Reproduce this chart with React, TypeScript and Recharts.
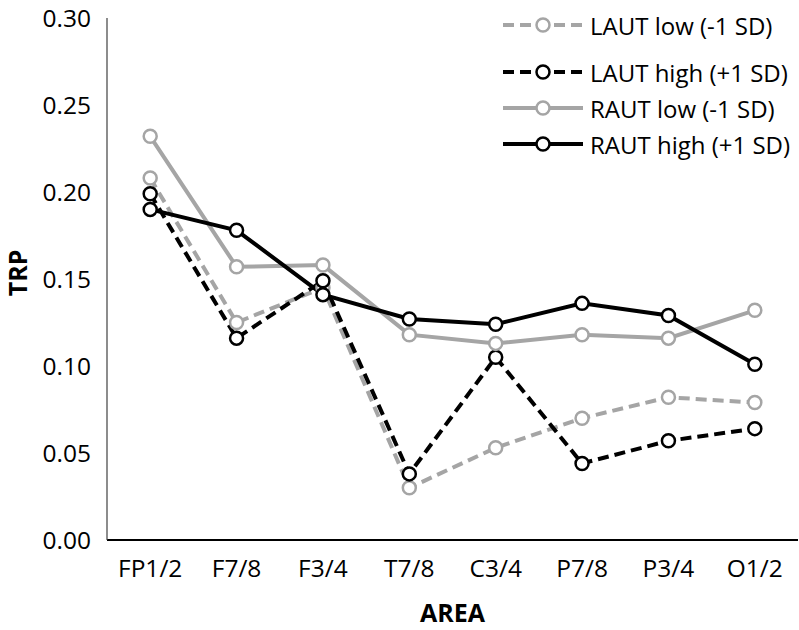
import React from "react";
import {
  LineChart,
  Line,
  XAxis,
  YAxis,
  Legend,
  Label,
} from "recharts";

const areas = ["FP1/2", "F7/8", "F3/4", "T7/8", "C3/4", "P7/8", "P3/4", "O1/2"];
const lautLow = [0.208, 0.125, 0.145, 0.03, 0.053, 0.07, 0.082, 0.079];
const lautHigh = [0.199, 0.116, 0.149, 0.038, 0.105, 0.044, 0.057, 0.064];
const rautLow = [0.232, 0.157, 0.158, 0.118, 0.113, 0.118, 0.116, 0.132];
const rautHigh = [0.19, 0.178, 0.141, 0.127, 0.124, 0.136, 0.129, 0.101];
const yTicks = [0, 0.05, 0.1, 0.15, 0.2, 0.25, 0.3];

const GRAY = "#A5A5A5";
const BLACK = "#000000";
const FONT = "'Open Sans', sans-serif";

const series = [
  { key: "lautLow", name: "LAUT low (-1 SD)", color: GRAY, dash: "11 6" },
  { key: "lautHigh", name: "LAUT high (+1 SD)", color: BLACK, dash: "11 6" },
  { key: "rautLow", name: "RAUT low (-1 SD)", color: GRAY, dash: undefined },
  { key: "rautHigh", name: "RAUT high (+1 SD)", color: BLACK, dash: undefined },
];

const data = areas.map((area, i) => ({
  area,
  lautLow: lautLow[i],
  lautHigh: lautHigh[i],
  rautLow: rautLow[i],
  rautHigh: rautHigh[i],
}));

function LegendBox() {
  return (
    <div style={{ fontFamily: FONT, fontSize: 24, color: "#000" }}>
      {series.map((s, i) => (
        <div
          key={s.key}
          style={{
            display: "flex",
            alignItems: "center",
            height: 36,
            marginBottom: i === 0 ? 11 : 0,
          }}
        >
          <svg width={80} height={20} style={{ marginRight: 7 }}>
            <line
              x1={0}
              y1={10}
              x2={80}
              y2={10}
              stroke={s.color}
              strokeWidth={4}
              strokeDasharray={s.dash ? "11 6" : undefined}
            />
            <circle cx={40} cy={10} r={6.5} fill="#fff" stroke={s.color} strokeWidth={2.5} />
          </svg>
          <span style={{ whiteSpace: "nowrap" }}>{s.name}</span>
        </div>
      ))}
    </div>
  );
}

export default function App() {
  return (
    <div style={{ position: "absolute", top: 0, left: 0, background: "#fff" }}>
      <LineChart
        width={799}
        height={630}
        data={data}
        margin={{ top: 18, right: 1, left: 0, bottom: 0 }}
      >
        <XAxis
          dataKey="area"
          scale="band"
          height={90}
          axisLine={{ stroke: "#000", strokeWidth: 2 }}
          tickLine={false}
          tickSize={0}
          tickMargin={20}
          tick={{ fill: "#000", fontSize: 24.5, fontFamily: FONT }}
          interval={0}
        >
          <Label
            content={({ viewBox }: any) => (
              <text
                x={viewBox.x + viewBox.width / 2}
                y={viewBox.y + 72}
                textAnchor="middle"
                dominantBaseline="central"
                fontFamily={FONT}
                fontWeight="bold"
                fontSize={25}
                fill="#000"
              >
                AREA
              </text>
            )}
          />
        </XAxis>
        <YAxis
          width={107}
          domain={[0, 0.3]}
          ticks={yTicks}
          tickFormatter={(v: number) => v.toFixed(2)}
          axisLine={{ stroke: "#404040", strokeWidth: 1.2 }}
          tickLine={false}
          tickSize={0}
          tickMargin={16}
          tick={{ fill: "#000", fontSize: 24.5, fontFamily: FONT }}
        >
          <Label
            content={({ viewBox }: any) => {
              const cx = 17;
              const cy = viewBox.y + viewBox.height / 2 - 6;
              return (
                <text
                  x={cx}
                  y={cy}
                  transform={`rotate(-90, ${cx}, ${cy})`}
                  textAnchor="middle"
                  dominantBaseline="central"
                  fontFamily={FONT}
                  fontWeight="bold"
                  fontSize={25}
                  fill="#000"
                >
                  TRP
                </text>
              );
            }}
          />
        </YAxis>
        <Legend
          layout="vertical"
          align="center"
          verticalAlign="middle"
          content={() => <LegendBox />}
          wrapperStyle={{ top: 7, left: 503, width: 296 }}
        />
        {series.map((s) => (
          <Line
            key={s.key}
            type="linear"
            dataKey={s.key}
            name={s.name}
            stroke={s.color}
            strokeWidth={4}
            strokeDasharray={s.dash}
            dot={{ r: 6.5, fill: "#fff", stroke: s.color, strokeWidth: 2.5, strokeDasharray: "0" }}
            activeDot={false}
            isAnimationActive={false}
          />
        ))}
      </LineChart>
    </div>
  );
}
